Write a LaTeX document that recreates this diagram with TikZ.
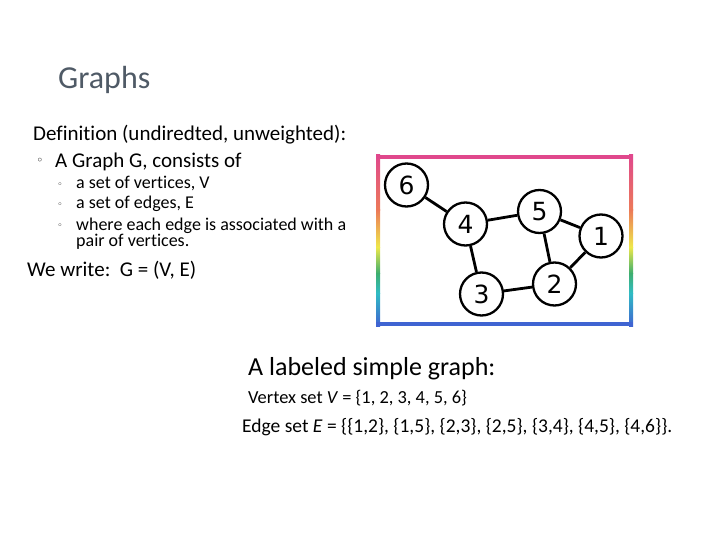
\documentclass[tikz,border=0pt]{standalone}
\usepackage{fontspec}
\setmainfont{Carlito}[Ligatures={NoCommon}]
\newfontfamily\digitfont{DejaVu Sans}
\newfontfamily\symfont{DejaVu Sans}
\definecolor{pinkC}{HTML}{E0488C}
\definecolor{orangeC}{HTML}{EC7A58}
\definecolor{yellowC}{HTML}{EEE84A}
\definecolor{greenC}{HTML}{3EAE6E}
\definecolor{tealC}{HTML}{30BCC4}
\definecolor{blueC}{HTML}{3F64D2}
\definecolor{titleC}{HTML}{4F5A66}
\tikzset{
  vtx/.style={circle, draw=black, line width=2.3pt, fill=white, minimum size=43pt, inner sep=0pt, font=\digitfont\fontsize{25}{25}\selectfont},
  edge/.style={line width=2.8pt},
  txt/.style={anchor=base west, inner sep=0pt},
  big/.style={txt, font=\fontsize{21}{24}\selectfont},
  small/.style={txt, font=\fontsize{18}{20}\selectfont},
  bul/.style={anchor=center, inner sep=0pt, font=\symfont\fontsize{12}{12}\selectfont},
  sbul/.style={bul, font=\symfont\fontsize{9}{9}\selectfont}
}
\begin{document}
\begin{tikzpicture}[x=1pt,y=-1pt]
\useasboundingbox (0,0) rectangle (720,540);
% title
\node[txt, text=titleC, font=\fontsize{32}{36}\selectfont] (title) at (58,89) {Graphs};
% definition
\node[bul] (b1) at (40,161) {◦};
\node[big] (def) at (33,141) {Definition (undiredted, unweighted):};
\node[big] (l1) at (55,168) {A Graph G, consists of};
\node[sbul] (b2) at (60,185) {◦};
\node[small] (l2) at (76,189) {a set of vertices, V};
\node[sbul] (b3) at (60,205) {◦};
\node[small] (l3) at (76,209) {a set of edges, E};
\node[sbul] (b4) at (60,226) {◦};
\node[small] (l4) at (76,230) {where each edge is associated with a};
\node[small] (l5) at (76,247) {pair of vertices.};
\node[big] (we) at (27,276) {We write:\ \ G = (V, E)};
% lower texts
\node[txt, font=\fontsize{26}{30}\selectfont] (lab) at (248,375) {A labeled simple graph:};
\node[txt, font=\fontsize{18.4}{21}\selectfont] (vs) at (248,403) {Vertex set \textit{V} = \{1, 2, 3, 4, 5, 6\}};
\node[txt, font=\fontsize{19.5}{22}\selectfont] (es) at (242,432) {Edge set \textit{E} = \{\{1,2\}, \{1,5\}, \{2,3\}, \{2,5\}, \{3,4\}, \{4,5\}, \{4,6\}\}.};
% frame: left and right sides with rainbow gradient
\foreach \xa/\xb in {376/380, 629/633}{
  \shade[top color=pinkC, bottom color=orangeC] (\xa,155) rectangle (\xb,210.3);
  \shade[top color=orangeC, bottom color=yellowC] (\xa,210) rectangle (\xb,247.3);
  \shade[top color=yellowC, bottom color=greenC] (\xa,247) rectangle (\xb,273.3);
  \shade[top color=greenC, bottom color=tealC] (\xa,273) rectangle (\xb,293.3);
  \shade[top color=tealC, bottom color=blueC] (\xa,293) rectangle (\xb,326);
}
\fill[pinkC] (376,155) rectangle (633,159);
\fill[blueC] (376,322) rectangle (633,326);
% graph
\node[vtx] (n6) at (406.5,185) {6};
\node[vtx] (n4) at (465.5,224) {4};
\node[vtx] (n5) at (539.5,211.5) {5};
\node[vtx] (n1) at (601,236) {1};
\node[vtx] (n2) at (554.5,284) {2};
\node[vtx] (n3) at (481.5,294) {3};
\draw[edge] (n6) -- (n4);
\draw[edge] (n4) -- (n5);
\draw[edge] (n5) -- (n1);
\draw[edge] (n5) -- (n2);
\draw[edge] (n1) -- (n2);
\draw[edge] (n4) -- (n3);
\draw[edge] (n3) -- (n2);
\end{tikzpicture}
\end{document}
